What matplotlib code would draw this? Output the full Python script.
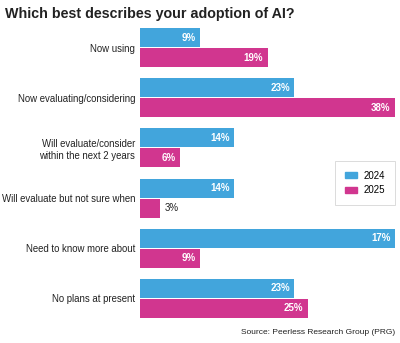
import matplotlib
matplotlib.use("Agg")
import matplotlib.pyplot as plt
from matplotlib.patches import Patch

categories = ["Now using", "Now evaluating/considering",
              "Will evaluate/consider\nwithin the next 2 years",
              "Will evaluate but not sure when",
              "Need to know more about", "No plans at present"]
bars_2024 = [9, 23, 14, 14, 38, 23]      # drawn bar lengths (as in picture)
labels_2024 = [9, 23, 14, 14, 17, 23]    # printed values
bars_2025 = [19, 38, 6, 3, 9, 25]
labels_2025 = [19, 38, 6, 3, 9, 25]
series = ["2024", "2025"]

c2024 = "#42A5DC"
c2025 = "#D1368F"

plt.rcParams['font.family'] = ['Liberation Sans', 'DejaVu Sans']
fig = plt.figure(figsize=(4.0, 3.43), dpi=100)
ax = fig.add_axes([140/400, 1-318/343, 255/400, 290/343])

y = list(range(len(categories)))
h = 0.38
off = 0.2
ax.barh([v - off for v in y], bars_2024, height=h, color=c2024)
ax.barh([v + off for v in y], bars_2025, height=h, color=c2025)
ax.set_xlim(0, 38)
ax.set_ylim(5.39, -0.39)

pad = 0.65
for yi, b, l in zip(y, bars_2024, labels_2024):
    ax.text(b - pad, yi - off, f"{l}%", ha="right", va="center", color="white",
            fontsize=7, fontweight="bold")
for yi, b, l in zip(y, bars_2025, labels_2025):
    if b >= 5:
        ax.text(b - pad, yi + off, f"{l}%", ha="right", va="center", color="white",
                fontsize=7, fontweight="bold")
    else:
        ax.text(b + pad, yi + off, f"{l}%", ha="left", va="center", color="#222222",
                fontsize=7)

ax.set_yticks(y)
ax.set_yticklabels(categories, fontsize=6.9, color="#222222")
ax.tick_params(axis="y", length=0, pad=3.5)
ax.set_xticks([])
for s in ax.spines.values():
    s.set_visible(False)

leg = fig.legend(handles=[Patch(color=c2024), Patch(color=c2025)], labels=series,
                 loc="upper right", bbox_to_anchor=(395/400, 1-161/343),
                 borderaxespad=0.0,
                 fontsize=7, frameon=True, fancybox=False, edgecolor="#cccccc",
                 handlelength=1.25, handleheight=0.6, borderpad=1.0, labelspacing=0.45,
                 handletextpad=0.7)
leg.get_frame().set_linewidth(0.6)

fig.text(5/400, 1-14/343, "Which best describes your adoption of AI?", fontsize=10.3,
         fontweight="bold", color="#222222", va="center", ha="left")
fig.text(395/400, 1-332/343, "Source: Peerless Research Group (PRG)", fontsize=6,
         color="#222222", va="center", ha="right")

fig.savefig("out.png", dpi=100)
